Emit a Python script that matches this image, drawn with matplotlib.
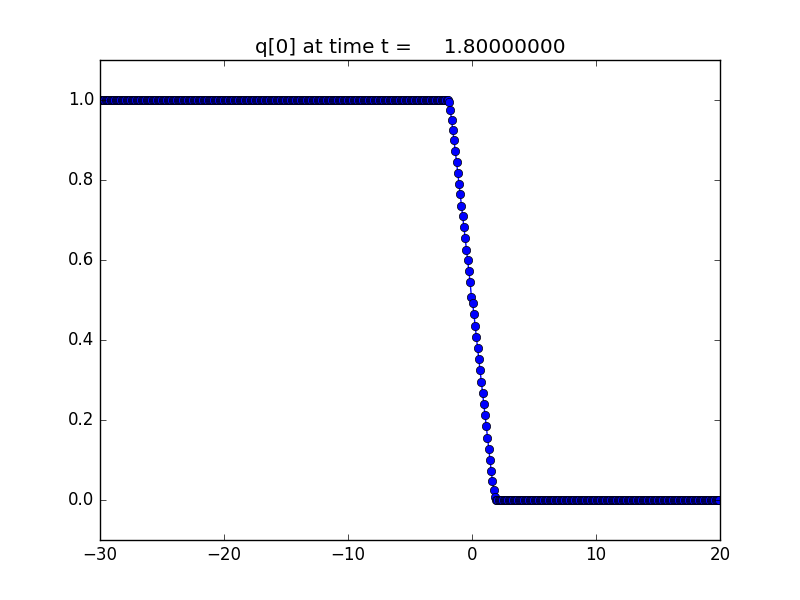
import matplotlib
matplotlib.use("Agg")
import matplotlib.pyplot as plt
import numpy as np

plt.style.use('classic')

# cell centres of a 500-cell grid on [-30, 20]
x_lower, x_upper, mx = -30.0, 20.0, 500
# state values
q_left = 1.0
q_right = 0.0
# values in the fan, cells centred at -1.95 ... 1.95
q_fan = [1.0, 0.994, 0.975, 0.951, 0.925, 0.899, 0.873, 0.846, 0.818, 0.790,
         0.764, 0.736, 0.710, 0.682, 0.654, 0.626, 0.600, 0.572, 0.544, 0.508,
         0.492, 0.466, 0.436, 0.408, 0.380, 0.352, 0.324, 0.296, 0.268, 0.240,
         0.212, 0.184, 0.156, 0.128, 0.100, 0.073, 0.047, 0.024, 0.007, 0.0]
fan_start = -1.95
t = 1.8

dx = (x_upper - x_lower) / mx
xc = np.linspace(x_lower + dx/2, x_upper - dx/2, mx)
i0 = int(round((fan_start - xc[0]) / dx))
q = np.full(mx, q_right)
q[:i0] = q_left
q[i0:i0 + len(q_fan)] = q_fan

fig = plt.figure(figsize=(8, 6), dpi=100)
plt.plot(xc, q, 'bo-')
plt.xlim(-30, 20)
plt.ylim(-0.1, 1.1)
plt.title('q[0] at time t = %14.8f' % t)
plt.savefig('out.png', dpi=100)
